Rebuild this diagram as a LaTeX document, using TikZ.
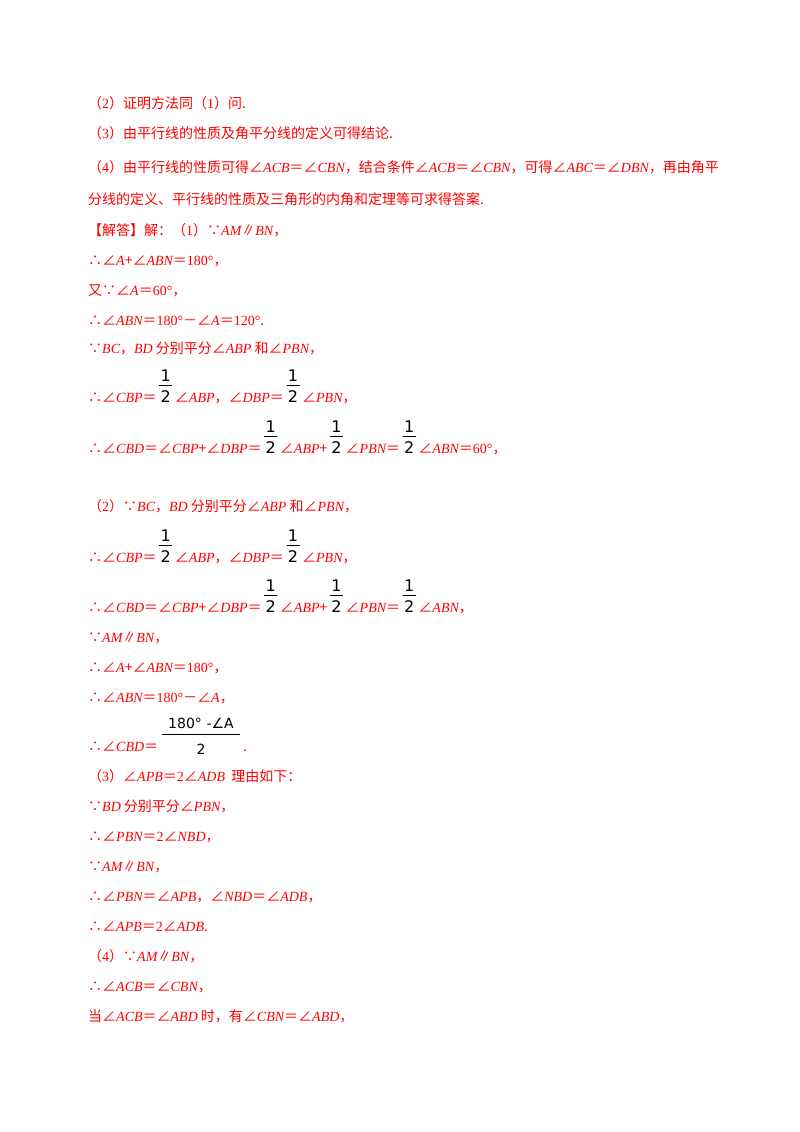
\documentclass[tikz,border=0pt]{standalone}
\usepackage{fontspec}
\setmainfont{Noto Sans CJK SC}
\newfontfamily\lat{Liberation Serif}
\newfontfamily\fr{DejaVu Sans}
\newcommand{\m}[1]{{\lat\itshape #1}}
\newcommand{\n}[1]{{\lat #1}}
\newcommand{\hf}{\textcolor{black}{\fr\fontsize{16pt}{18pt}\selectfont\,\shortstack{1\\[1pt]\rule{13pt}{0.7pt}\\[1pt]2}\,}}
\begin{document}
\begin{tikzpicture}[x=1pt,y=-1pt,t/.style={anchor=base west,inner sep=0pt,text=red,font=\fontsize{14pt}{16pt}\selectfont}]
\useasboundingbox[fill=white] (0,0) rectangle (800,1132);
\node[t] (l1) at (88,108) {（\n{2}）证明方法同（\n{1}）问.};
\node[t] (l2) at (88,138) {（\n{3}）由平行线的性质及角平分线的定义可得结论.};
\node[t] (l3) at (88,172) {（\n{4}）由平行线的性质可得∠\m{ACB}＝∠\m{CBN}，结合条件∠\m{ACB}＝∠\m{CBN}，可得∠\m{ABC}＝∠\m{DBN}，再由角平};
\node[t] (l4) at (88,204) {分线的定义、平行线的性质及三角形的内角和定理等可求得答案.};
\node[t] (l5) at (88,235) {【解答】解：（\n{1}）∵\m{AM}∥\m{BN}，};
\node[t] (l6) at (88,265) {∴∠\m{A}+∠\m{ABN}＝\n{180°}，};
\node[t] (l7) at (88,295) {又∵∠\m{A}＝\n{60°}，};
\node[t] (l8) at (88,325) {∴∠\m{ABN}＝\n{180°}－∠\m{A}＝\n{120°}.};
\node[t] (l9) at (88,353) {∵\m{BC}，\m{BD} 分别平分∠\m{ABP} 和∠\m{PBN}，};
\node[t] (l10) at (88,402) {∴∠\m{CBP}＝\hf∠\m{ABP}，∠\m{DBP}＝\hf∠\m{PBN}，};
\node[t] (l11) at (88,453) {∴∠\m{CBD}＝∠\m{CBP}+∠\m{DBP}＝\hf∠\m{ABP}+\hf∠\m{PBN}＝\hf∠\m{ABN}＝\n{60°}，};
\node[t] (l12) at (88,511) {（\n{2}）∵\m{BC}，\m{BD} 分别平分∠\m{ABP} 和∠\m{PBN}，};
\node[t] (l13) at (88,562) {∴∠\m{CBP}＝\hf∠\m{ABP}，∠\m{DBP}＝\hf∠\m{PBN}，};
\node[t] (l14) at (88,612) {∴∠\m{CBD}＝∠\m{CBP}+∠\m{DBP}＝\hf∠\m{ABP}+\hf∠\m{PBN}＝\hf∠\m{ABN}，};
\node[t] (l15) at (88,642) {∵\m{AM}∥\m{BN}，};
\node[t] (l16) at (88,672) {∴∠\m{A}+∠\m{ABN}＝\n{180°}，};
\node[t] (l17) at (88,702) {∴∠\m{ABN}＝\n{180°}－∠\m{A}，};
\node[t] (l18) at (88,751) {∴∠\m{CBD}＝};
\node[anchor=base,inner sep=0pt,font=\fr\fontsize{14pt}{16pt}\selectfont] (num) at (201,728) {180°\,\,-∠A};
\node[anchor=base,inner sep=0pt,font=\fr\fontsize{14pt}{16pt}\selectfont] (den) at (201,754) {2};
\draw[line width=0.8pt] (162,734) -- (240,734);
\node[t] (dot) at (243,751) {.};
\node[t] (l19) at (88,781) {（\n{3}）∠\m{APB}＝\n{2}∠\m{ADB}\ \ 理由如下：};
\node[t] (l20) at (88,811) {∵\m{BD} 分别平分∠\m{PBN}，};
\node[t] (l21) at (88,841) {∴∠\m{PBN}＝\n{2}∠\m{NBD}，};
\node[t] (l22) at (88,871) {∵\m{AM}∥\m{BN}，};
\node[t] (l23) at (88,901) {∴∠\m{PBN}＝∠\m{APB}，∠\m{NBD}＝∠\m{ADB}，};
\node[t] (l24) at (88,931) {∴∠\m{APB}＝\n{2}∠\m{ADB}.};
\node[t] (l25) at (88,961) {（\n{4}）∵\m{AM}∥\m{BN}，};
\node[t] (l26) at (88,991) {∴∠\m{ACB}＝∠\m{CBN}，};
\node[t] (l27) at (88,1021) {当∠\m{ACB}＝∠\m{ABD} 时，有∠\m{CBN}＝∠\m{ABD}，};
\end{tikzpicture}
\end{document}
